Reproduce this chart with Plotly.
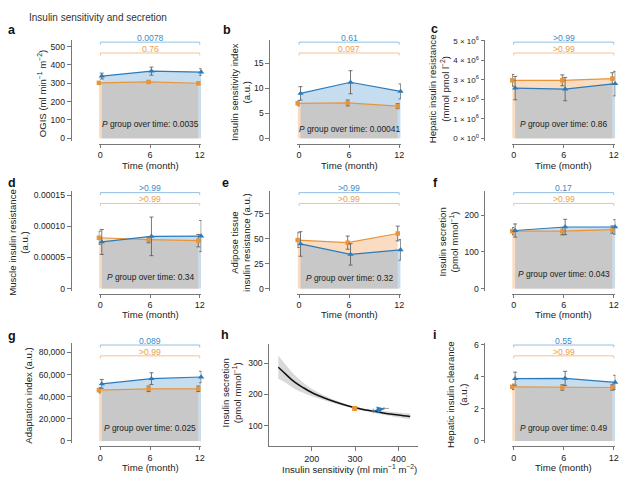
import numpy as np
import plotly.graph_objects as go

W, H = 629, 480
FONT = "Liberation Sans, Arial, sans-serif"

# ---------------- data ----------------
TIME = [0, 6, 12]

OGIS_G1 = [339, 366, 361]
OGIS_G1_ERR = [16, 22, 18]
OGIS_G2 = [302, 307, 300]
OGIS_G2_ERR = [8, 8, 8]

ISI_G1 = [8.97, 11.2, 9.37]
ISI_G1_ERR = [1.35, 2.3, 1.5]
ISI_G2 = [7.0, 7.07, 6.42]
ISI_G2_ERR = [0.5, 0.6, 0.5]

HIR_G1 = [2.58e6, 2.53e6, 2.81e6]
HIR_G1_ERR = [0.6e6, 0.6e6, 0.63e6]
HIR_G2 = [2.98e6, 2.98e6, 3.07e6]
HIR_G2_ERR = [0.3e6, 0.28e6, 0.3e6]

MIR_G1 = [7.47e-5, 8.37e-5, 8.42e-5]
MIR_G1_ERR = [2.0e-5, 3.1e-5, 2.5e-5]
MIR_G2 = [8.15e-5, 7.84e-5, 7.68e-5]
MIR_G2_ERR = [1.05e-5, 0.5e-5, 1.0e-5]

AIR_G1 = [44.7, 34.2, 38.8]
AIR_G1_ERR = [12.3, 10.7, 10.4]
AIR_G2 = [48.6, 46.0, 55.2]
AIR_G2_ERR = [7.4, 6.6, 7.4]

ISEC_G1 = [158.7, 168.4, 168.4]
ISEC_G1_ERR = [18, 21, 20]
ISEC_G2 = [156.8, 156.8, 161.4]
ISEC_G2_ERR = [10, 10, 10]

ADAPT_G1 = [51555, 56300, 57780]
ADAPT_G1_ERR = [4000, 5300, 5200]
ADAPT_G2 = [45870, 47100, 47100]
ADAPT_G2_ERR = [2500, 2500, 2500]

HIC_G1 = [3.89, 3.91, 3.66]
HIC_G1_ERR = [0.41, 0.44, 0.44]
HIC_G2 = [3.38, 3.34, 3.34]
HIC_G2_ERR = [0.17, 0.17, 0.17]

P_G1 = ["0.0078", "0.61", ">0.99", ">0.99", ">0.99", "0.17", "0.089", "0.55"]
P_G2 = ["0.76", "0.097", ">0.99", ">0.99", ">0.99", ">0.99", ">0.99", ">0.99"]
P_GROUP = ["0.0035", "0.00041", "0.86", "0.34", "0.32", "0.043", "0.025", "0.49"]

# panel h
H_CURVE_X = [123, 140, 160, 180, 200, 225, 250, 275, 300, 325, 350, 375, 400, 427]
H_CURVE_Y = [287, 265, 240, 222, 206, 191, 178, 167, 157, 150, 144, 138, 134, 129]
H_BAND_UP = [325, 295, 263, 238, 218, 199, 184, 171, 161, 154, 149, 145, 142, 139]
H_BAND_LO = [250, 237, 218, 205, 194, 183, 172, 163, 153, 146, 139, 132, 126, 120]
H_G2_X = [299]
H_G2_Y = [155]
H_G2_XERR = [6]
H_G2_YERR = [4]
H_G1_X = [342, 367]
H_G1_Y = [147, 155]
H_G1_XERR = [4, 11]
H_G1_YERR = [8, 4]

# ---------------- style ----------------
BLUE = "#2b7bba"
ORANGE = "#e8953a"
BLUE_FILL = "#c6dcef"
ORANGE_FILL = "#f9dcc2"
GRAY_FILL = "#c8c8c8"
BLUE_TXT = "#3d8cc8"
ORANGE_TXT = "#e9a052"
BLUE_BR = "#94c1e2"
ORANGE_BR = "#f3c393"
AX = "#777777"
TXT = "#222222"
DODGE = 0.17

COLS = [dict(yline=70, x0=100, s=8.333), dict(yline=270, x0=300, s=8.39),
        dict(yline=486.5, x0=516, s=8.39)]
ROWS = [dict(top=36, zero=135.6, bottom=138, xline=141, xt=163, letter=25),
        dict(top=189, zero=288.3, bottom=290.5, xline=293.5, xt=315, letter=181),
        dict(top=344, zero=443.3, bottom=445.5, xline=448.5, xt=470, letter=337)]


def px(x):
    return x / W


def py(y):
    return 1 - y / H


panels = [
    dict(k=1, c=0, r=0, g1=OGIS_G1, g1e=OGIS_G1_ERR, g2=OGIS_G2, g2e=OGIS_G2_ERR,
         ppu=93.4 / 500, tv=[0, 100, 200, 300, 400, 500], tt=None, pty=121,
         yt="OGIS (ml min<sup>−1</sup> m<sup>−2</sup>)", ytx=41, yty=90),
    dict(k=2, c=1, r=0, g1=ISI_G1, g1e=ISI_G1_ERR, g2=ISI_G2, g2e=ISI_G2_ERR,
         ppu=76.4 / 15, tv=[0, 5, 10, 15], tt=None, pty=126,
         yt="Insulin sensitivity index<br>(a.u.)", ytx=241, yty=88),
    dict(k=3, c=2, r=0, g1=HIR_G1, g1e=HIR_G1_ERR, g2=HIR_G2, g2e=HIR_G2_ERR,
         ppu=99 / 5e6, tv=[0, 1e6, 2e6, 3e6, 4e6, 5e6],
         tt=["0 × 10<sup>0</sup>"] + [f"{i} × 10<sup>6</sup>" for i in range(1, 6)], pty=121.5,
         yt="Hepatic insulin resistance<br>(mmol pmol l<sup>−2</sup>)", ytx=440.5, yty=85),
    dict(k=4, c=0, r=1, g1=MIR_G1, g1e=MIR_G1_ERR, g2=MIR_G2, g2e=MIR_G2_ERR,
         ppu=95 / 0.00015, tv=[0, 5e-5, 1e-4, 1.5e-4], tt=["0", "0.00005", "0.00010", "0.00015"],
         pty=276.5, yt="Muscle insulin resistance<br>(a.u.)", ytx=17.5, yty=241.5),
    dict(k=5, c=1, r=1, g1=AIR_G1, g1e=AIR_G1_ERR, g2=AIR_G2, g2e=AIR_G2_ERR,
         ppu=76 / 75, tv=[0, 25, 50, 75], tt=None, pty=278,
         yt="Adipose tissue<br>insulin resistance (a.u.)", ytx=241, yty=241.5),
    dict(k=6, c=2, r=1, g1=ISEC_G1, g1e=ISEC_G1_ERR, g2=ISEC_G2, g2e=ISEC_G2_ERR,
         ppu=74.3 / 200, tv=[0, 100, 200], tt=None, pty=273.5,
         yt="Insulin secretion<br>(pmol mmol<sup>−1</sup>)", ytx=450, yty=241.5),
    dict(k=7, c=0, r=2, g1=ADAPT_G1, g1e=ADAPT_G1_ERR, g2=ADAPT_G2, g2e=ADAPT_G2_ERR,
         ppu=90 / 80000, tv=[0, 20000, 40000, 60000, 80000],
         tt=["0", "20,000", "40,000", "60,000", "80,000"], pty=430,
         yt="Adaptation index (a.u.)", ytx=28, yty=396.5),
    dict(k=9, c=2, r=2, g1=HIC_G1, g1e=HIC_G1_ERR, g2=HIC_G2, g2e=HIC_G2_ERR,
         ppu=97.6 / 6, tv=[0, 2, 4, 6], tt=None, pty=430,
         yt="Hepatic insulin clearance<br>(a.u.)", ytx=459, yty=396.5),
]


def overlap(xa, ya, xb, yb):
    lo, hi = max(xa[0], xb[0]), min(xa[-1], xb[-1])
    pts = sorted(set([lo, hi] + [v for v in list(xa) + list(xb) if lo < v < hi]))
    xs = []
    for i in range(len(pts) - 1):
        x0, x1 = pts[i], pts[i + 1]
        a0, a1 = np.interp([x0, x1], xa, ya)
        b0, b1 = np.interp([x0, x1], xb, yb)
        xs.append(x0)
        d0, d1 = a0 - b0, a1 - b1
        if d0 * d1 < 0:
            xs.append(x0 + (x1 - x0) * d0 / (d0 - d1))
    xs.append(pts[-1])
    ys = np.minimum(np.interp(xs, xa, ya), np.interp(xs, xb, yb))
    return list(xs), list(ys)


fig = go.Figure()
layout = dict(width=W, height=H, margin=dict(l=0, r=0, t=0, b=0),
              paper_bgcolor="white", plot_bgcolor="rgba(0,0,0,0)", showlegend=False,
              font=dict(family=FONT, size=9, color=TXT))
ann = []
shapes = []

ann.append(dict(text="Insulin sensitivity and secretion", x=px(26), y=py(12.5), xref="paper",
                yref="paper", xanchor="left", yanchor="middle", showarrow=False,
                font=dict(size=10, color="#333")))

for pi, p in enumerate(panels):
    k = p["k"]
    xa = "x" if k == 1 else f"x{k}"
    ya = "y" if k == 1 else f"y{k}"
    col, row = COLS[p["c"]], ROWS[p["r"]]
    x1 = [t + DODGE for t in TIME]
    x2 = [t - DODGE for t in TIME]
    common = dict(xaxis=xa, yaxis=ya, hoverinfo="skip", showlegend=False)
    fig.add_trace(go.Scatter(x=x1, y=p["g1"], mode="lines", line=dict(width=0),
                             fill="tozeroy", fillcolor=BLUE_FILL, **common))
    fig.add_trace(go.Scatter(x=x2, y=p["g2"], mode="lines", line=dict(width=0),
                             fill="tozeroy", fillcolor=ORANGE_FILL, **common))
    ox, oy = overlap(x1, p["g1"], x2, p["g2"])
    fig.add_trace(go.Scatter(x=ox, y=oy, mode="lines", line=dict(width=0),
                             fill="tozeroy", fillcolor=GRAY_FILL, **common))
    fig.add_trace(go.Scatter(x=x2, y=p["g2"], mode="lines+markers",
                             line=dict(color=ORANGE, width=1.2),
                             marker=dict(symbol="square", size=4.5, color=ORANGE),
                             error_y=dict(type="data", array=p["g2e"], color="#555",
                                          thickness=0.8, width=2),
                             cliponaxis=False, **common))
    fig.add_trace(go.Scatter(x=x1, y=p["g1"], mode="lines+markers",
                             line=dict(color=BLUE, width=1.2),
                             marker=dict(symbol="triangle-up", size=5.5, color=BLUE),
                             error_y=dict(type="data", array=p["g1e"], color="#555",
                                          thickness=0.8, width=2),
                             cliponaxis=False, **common))

    s = col["s"]
    ppu = p["ppu"]
    layout["xaxis" if k == 1 else f"xaxis{k}"] = dict(
        domain=[px(col["x0"] - 0.2 * s), px(col["x0"] + 12.2 * s)], range=[-0.2, 12.2],
        anchor="free", position=py(row["xline"]), showline=True, linecolor=AX, linewidth=0.8,
        ticks="outside", ticklen=3, tickwidth=0.8, tickcolor=AX, tickvals=TIME,
        showgrid=False, zeroline=False, tickfont=dict(size=9, color=TXT))
    yax = dict(
        domain=[py(row["bottom"]), py(row["top"])],
        range=[-(row["bottom"] - row["zero"]) / ppu, (row["zero"] - row["top"]) / ppu],
        anchor="free", position=px(col["yline"]), showline=True, linecolor=AX, linewidth=0.8,
        ticks="outside", ticklen=4, tickwidth=0.8, tickcolor=AX, tickvals=p["tv"],
        showgrid=False, zeroline=False,
        tickfont=dict(size=8 if k == 3 else 8.6, color=TXT))
    if p["tt"] is not None:
        yax["ticktext"] = p["tt"]
    layout["yaxis" if k == 1 else f"yaxis{k}"] = yax

    # brackets
    for off, colr, tcol, txt in [(1.8, BLUE_BR, BLUE_TXT, P_G1[pi]),
                                 (12.8, ORANGE_BR, ORANGE_TXT, P_G2[pi])]:
        yb = py(row["top"] + off)
        yl = py(row["top"] + off + 2.5)
        shapes.append(dict(type="path", xref=xa, yref="paper",
                           path=f"M {TIME[0]},{yl} L {TIME[0]},{yb} L {TIME[-1]},{yb} L {TIME[-1]},{yl}",
                           line=dict(color=colr, width=1)))
        ann.append(dict(text=txt, x=6, y=py(row["top"] + off - 4.3), xref=xa, yref="paper",
                        xanchor="center", yanchor="middle", showarrow=False,
                        font=dict(size=8.6, color=tcol)))
    ann.append(dict(text=f"<i>P</i> group over time: {P_GROUP[pi]}", x=6, y=py(p["pty"]),
                    xref=xa, yref="paper", xanchor="center", yanchor="middle",
                    showarrow=False, font=dict(size=8.4, color=TXT)))
    ann.append(dict(text="Time (month)", x=px(col["x0"] + 6 * s), y=py(row["xt"]),
                    xref="paper", yref="paper", xanchor="center", yanchor="middle",
                    showarrow=False, font=dict(size=9.6, color=TXT)))
    ann.append(dict(text=p["yt"], x=px(p["ytx"]), y=py(p["yty"]), xref="paper", yref="paper",
                    xanchor="center", yanchor="middle", textangle=-90, showarrow=False,
                    font=dict(size=9.6, color=TXT)))

# ---------------- panel h ----------------
common = dict(xaxis="x8", yaxis="y8", hoverinfo="skip", showlegend=False)
fig.add_trace(go.Scatter(x=H_CURVE_X, y=H_BAND_UP, mode="lines", line=dict(width=0, shape="spline"),
                         **common))
fig.add_trace(go.Scatter(x=H_CURVE_X, y=H_BAND_LO, mode="lines", line=dict(width=0, shape="spline"),
                         fill="tonexty", fillcolor="#d9d9d9", **common))
fig.add_trace(go.Scatter(x=H_CURVE_X, y=H_CURVE_Y, mode="lines",
                         line=dict(color="#111", width=1.5, shape="spline"), **common))
fig.add_trace(go.Scatter(x=H_G2_X, y=H_G2_Y, mode="markers",
                         marker=dict(symbol="square", size=5, color=ORANGE),
                         error_x=dict(type="data", array=H_G2_XERR, color="#888", thickness=0.8, width=0),
                         error_y=dict(type="data", array=H_G2_YERR, color="#888", thickness=0.8, width=0),
                         **common))
fig.add_trace(go.Scatter(x=H_G1_X, y=H_G1_Y, mode="lines",
                         line=dict(color=BLUE, width=1.6),
                         error_x=dict(type="data", array=H_G1_XERR, color="#888", thickness=0.8, width=0),
                         error_y=dict(type="data", array=H_G1_YERR, color="#888", thickness=0.8, width=0),
                         **common))
ann.append(dict(x=H_G1_X[-1], y=H_G1_Y[-1], ax=H_G1_X[-2], ay=H_G1_Y[-2], xref="x8", yref="y8",
                axref="x8", ayref="y8", text=" ", showarrow=True, arrowhead=2, arrowsize=0.9,
                arrowwidth=1.6, arrowcolor=BLUE))

hx_ppu = 0.4365
hy_ppu = 0.317
layout["xaxis8"] = dict(domain=[px(270), px(420)],
                        range=[200 - (312.7 - 270) / hx_ppu, 400 + (420 - 400) / hx_ppu],
                        anchor="y8", showline=True, linecolor=AX, linewidth=0.8,
                        ticks="outside", ticklen=4, tickwidth=0.8, tickcolor=AX,
                        tickvals=[200, 300, 400], showgrid=False, zeroline=False,
                        tickfont=dict(size=9, color=TXT))
layout["yaxis8"] = dict(domain=[py(448.3), py(345)],
                        range=[100 - (448.3 - 427.7) / hy_ppu, 300 + (364.3 - 345) / hy_ppu],
                        anchor="x8", showline=True, linecolor=AX, linewidth=0.8,
                        ticks="outside", ticklen=4, tickwidth=0.8, tickcolor=AX,
                        tickvals=[100, 200, 300], showgrid=False, zeroline=False,
                        tickfont=dict(size=8.6, color=TXT))
ann.append(dict(text="Insulin sensitivity (ml min<sup>−1</sup> m<sup>−2</sup>)", x=px(350.5),
                y=py(471.5), xref="paper", yref="paper", xanchor="center", yanchor="middle",
                showarrow=False, font=dict(size=9.6, color=TXT)))
ann.append(dict(text="Insulin secretion<br>(pmol mmol<sup>−1</sup>)", x=px(231.5), y=py(395),
                xref="paper", yref="paper", xanchor="center", yanchor="middle", textangle=-90,
                showarrow=False, font=dict(size=9.6, color=TXT)))

# panel letters
LETTERS = [("a", 11, 25), ("b", 227, 25), ("c", 436, 24), ("d", 11, 181), ("e", 226, 181),
           ("f", 437, 181), ("g", 11, 337), ("h", 225, 336), ("i", 436, 336)]
for t, x, y in LETTERS:
    ann.append(dict(text=f"<b>{t}</b>", x=px(x), y=py(y), xref="paper", yref="paper",
                    xanchor="center", yanchor="middle", showarrow=False,
                    font=dict(size=12.5, color="#111")))

layout["annotations"] = ann
layout["shapes"] = shapes
fig.update_layout(**layout)
fig.write_html("out.html", config={"displayModeBar": False},
               post_script="document.body.style.margin='0px';")
